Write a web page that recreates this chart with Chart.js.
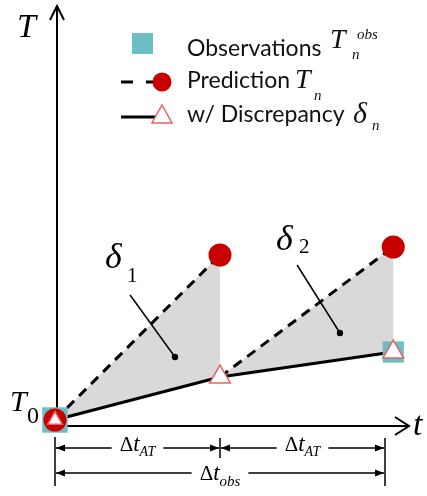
<!DOCTYPE html>
<html>
<head>
<meta charset="utf-8">
<script src="https://cdn.jsdelivr.net/npm/chart.js@4.4.0/dist/chart.umd.min.js"></script>
<style>
  html, body { margin: 0; padding: 0; background: #fff; }
  canvas { display: block; }
</style>
</head>
<body>
<canvas id="chart" width="427" height="496"></canvas>
<script>
/*
  Sketch of prediction vs. observation with discrepancy correction.
  Chart.js draws the points, lines and the grey area; a small plugin
  adds the arrows, dimension lines, labels and the legend.
*/

// Assimilation times (in steps of dt_AT)
const times = [0, 1, 2.05];
// Prediction T_n, started from the previous corrected value
const predicted = [0, 16.5, 17.3];
// Prediction with discrepancy delta_n
const corrected = [0, 4.3, 6.8];
// Observations T_n^obs (none at the middle step)
const observed = [0, null, 6.8];
// Ticks of the dimension lines under the time axis
const dimTicks = [0, 1, 2];
// Subscripts of the discrepancy labels
const deltaLabels = ["1", "2"];

const TEAL = "#6cbec4";
const RED = "#c80000";
const PINK = "#e06666";
const GREY = "#d9d9d9";

// ===== build the datasets from the arrays =====

// grey area: along the predictions and back along the corrected line
const areaPts = [{ x: times[0], y: corrected[0] }];
for (let i = 1; i < times.length; i++) {
    areaPts.push({ x: times[i], y: predicted[i] });
    areaPts.push({ x: times[i], y: corrected[i] });
}
for (let i = times.length - 2; i >= 0; i--) {
    areaPts.push({ x: times[i], y: corrected[i] });
}

// dashed segments: from corrected value n-1 to prediction n
const dashPts = [];
for (let i = 1; i < times.length; i++) {
    dashPts.push({ x: times[i - 1], y: corrected[i - 1] });
    dashPts.push({ x: times[i], y: predicted[i] });
    dashPts.push({ x: times[i], y: null });
}

const solidPts = times.map((t, i) => ({ x: t, y: corrected[i] }));
const predPts = times.map((t, i) => ({ x: t, y: predicted[i] }));
const obsPts = times.map((t, i) => ({ x: t, y: observed[i] })).filter(p => p.y !== null);

// ===== helpers for the plugin =====
const serifI = s => "italic " + s + "px 'Liberation Serif', 'DejaVu Serif', serif";
const serif = s => s + "px 'Liberation Serif', 'DejaVu Serif', serif";
const sans = "23px Lato, 'Open Sans', sans-serif";

// draws a row of text pieces: [text, font, dy]
function runs(ctx, x, y, parts) {
    parts.forEach(p => {
        ctx.font = p[1];
        ctx.fillText(p[0], x, y + (p[2] || 0));
        x += ctx.measureText(p[0]).width;
    });
    return x;
}

function runsWidth(ctx, parts) {
    let w = 0;
    parts.forEach(p => { ctx.font = p[1]; w += ctx.measureText(p[0]).width; });
    return w;
}

function arrowHead(ctx, x, y, dir) {
    ctx.beginPath();
    ctx.moveTo(x, y);
    ctx.lineTo(x - dir * 9, y - 3.5);
    ctx.lineTo(x - dir * 9, y + 3.5);
    ctx.closePath();
    ctx.fill();
}

// horizontal dimension line with a label in a gap
function dimLine(ctx, x1, x2, y, parts, dy) {
    const w = runsWidth(ctx, parts);
    const mid = (x1 + x2) / 2;
    ctx.lineWidth = 1.5;
    ctx.beginPath();
    ctx.moveTo(x1, y); ctx.lineTo(mid - w / 2 - 8, y);
    ctx.moveTo(mid + w / 2 + 8, y); ctx.lineTo(x2, y);
    ctx.stroke();
    arrowHead(ctx, x1, y, -1);
    arrowHead(ctx, x2, y, 1);
    runs(ctx, mid - w / 2, y + dy, parts);
}

const sketchPlugin = {
    id: "sketch",
    beforeDatasetsDraw(chart) {
        const ctx = chart.ctx;
        ctx.save();
        ctx.strokeStyle = "#000";
        ctx.lineWidth = 2;
        // T axis
        ctx.beginPath();
        ctx.moveTo(57, 426); ctx.lineTo(57, 6);
        ctx.moveTo(50, 20); ctx.lineTo(57, 6); ctx.lineTo(64, 20);
        // t axis
        ctx.moveTo(57, 426); ctx.lineTo(409, 426);
        ctx.moveTo(395, 417); ctx.lineTo(409, 426); ctx.lineTo(395, 435);
        ctx.stroke();
        ctx.restore();
    },
    afterDatasetsDraw(chart) {
        const ctx = chart.ctx;
        const X = v => chart.scales.x.getPixelForValue(v);
        const Y = v => chart.scales.y.getPixelForValue(v);
        ctx.save();
        ctx.fillStyle = "#000";
        ctx.strokeStyle = "#000";

        // leader lines for delta_1 and delta_2 (data units)
        const leaders = [[0.455, 12.5, 0.727, 6.3], [1.467, 15.5, 1.727, 8.7]];
        const labelAt = [[105, 268, 127, 282], [276, 250, 299, 253]];
        leaders.forEach((l, i) => {
            ctx.lineWidth = 1.5;
            ctx.beginPath();
            ctx.moveTo(X(l[0]), Y(l[1]));
            ctx.lineTo(X(l[2]), Y(l[3]));
            ctx.stroke();
            ctx.beginPath();
            ctx.arc(X(l[2]), Y(l[3]), 3.2, 0, Math.PI * 2);
            ctx.fill();
            const a = labelAt[i];
            ctx.font = serifI(36);
            ctx.fillText("\u03b4", a[0], a[1]);
            ctx.font = serif(21);
            ctx.fillText(deltaLabels[i], a[2], a[3]);
        });

        // dimension ticks and lines
        const xt = dimTicks.map(X);
        ctx.lineWidth = 1.5;
        ctx.beginPath();
        ctx.moveTo(xt[0], 437); ctx.lineTo(xt[0], 486);
        ctx.moveTo(xt[1], 438); ctx.lineTo(xt[1], 458);
        ctx.moveTo(xt[2], 438); ctx.lineTo(xt[2], 486);
        ctx.stroke();
        const at = [["\u0394", serif(21)], ["t", serifI(23)], ["AT", serifI(14), 5]];
        const obs = [["\u0394", serif(21)], ["t", serifI(23)], ["obs", serifI(15), 6]];
        dimLine(ctx, xt[0] + 1, xt[1] - 1, 448, at, 3);
        dimLine(ctx, xt[1] + 1, xt[2] - 1, 448, at, 3);
        dimLine(ctx, xt[0] + 1, xt[2] - 1, 473, obs, 7);
        ctx.restore();
    },
    afterDraw(chart) {
        const ctx = chart.ctx;
        ctx.save();
        ctx.fillStyle = "#000";

        // axis names
        ctx.font = serifI(34);
        ctx.fillText("T", 17, 37);
        ctx.fillText("t", 413, 435);
        runs(ctx, 10, 411, [["T", serifI(30)]]);
        ctx.font = serif(24);
        ctx.fillText("0", 27, 423);

        // ===== legend =====
        // observations
        ctx.fillStyle = TEAL;
        ctx.fillRect(132, 33, 21, 21);
        ctx.fillStyle = "#111";
        ctx.font = sans;
        ctx.fillText("Observations", 187, 56);
        ctx.font = serifI(28);
        ctx.fillText("T", 330, 48);
        ctx.font = serifI(15);
        ctx.fillText("obs", 357, 39);
        ctx.fillText("n", 352, 59);

        // prediction
        ctx.strokeStyle = "#000";
        ctx.lineWidth = 3;
        ctx.beginPath();
        ctx.moveTo(121, 82); ctx.lineTo(133, 82);
        ctx.moveTo(146, 82); ctx.lineTo(156, 82);
        ctx.stroke();
        ctx.fillStyle = RED;
        ctx.beginPath();
        ctx.arc(162, 82, 9.5, 0, Math.PI * 2);
        ctx.fill();
        ctx.fillStyle = "#111";
        ctx.font = sans;
        ctx.fillText("Prediction", 187, 88);
        ctx.font = serifI(28);
        ctx.fillText("T", 295, 88);
        ctx.font = serifI(15);
        ctx.fillText("n", 314, 100);

        // with discrepancy
        ctx.beginPath();
        ctx.moveTo(121, 117); ctx.lineTo(158, 117);
        ctx.stroke();
        ctx.fillStyle = "#fff";
        ctx.strokeStyle = PINK;
        ctx.lineWidth = 1.5;
        ctx.beginPath();
        ctx.moveTo(162, 105); ctx.lineTo(172, 123); ctx.lineTo(152, 123);
        ctx.closePath();
        ctx.fill();
        ctx.stroke();
        ctx.fillStyle = "#111";
        ctx.font = sans;
        ctx.fillText("w/ Discrepancy", 187, 122);
        ctx.font = serifI(30);
        ctx.fillText("\u03b4", 353, 123);
        ctx.font = serifI(15);
        ctx.fillText("n", 372, 130);
        ctx.restore();
    }
};

// ===== chart =====
new Chart(document.getElementById("chart"), {
    type: "scatter",
    data: {
        datasets: [
            {   // triangles: corrected values
                data: solidPts,
                order: 1,
                showLine: false,
                pointStyle: "triangle",
                pointRadius: c => c.dataIndex === 0 ? 8.5 : 12,
                backgroundColor: "#fff",
                borderColor: PINK,
                borderWidth: 1.5
            },
            {   // red circles: predictions
                data: predPts,
                order: 2,
                showLine: false,
                pointStyle: "circle",
                pointRadius: 11.5,
                backgroundColor: RED,
                borderWidth: 0
            },
            {   // teal squares: observations
                data: obsPts,
                order: 3,
                showLine: false,
                pointStyle: "rect",
                pointRadius: c => c.dataIndex === 0 ? 18 : 15,
                backgroundColor: TEAL,
                borderWidth: 0
            },
            {   // solid line with discrepancy
                data: solidPts,
                order: 4,
                showLine: true,
                pointRadius: 0,
                borderColor: "#000",
                borderWidth: 3
            },
            {   // dashed prediction lines
                data: dashPts,
                order: 5,
                showLine: true,
                spanGaps: false,
                pointRadius: 0,
                borderColor: "#000",
                borderWidth: 3,
                borderDash: [10, 7]
            },
            {   // grey area between prediction and correction
                data: areaPts,
                order: 6,
                showLine: true,
                pointRadius: 0,
                borderWidth: 0,
                borderColor: GREY,
                backgroundColor: GREY,
                fill: "shape"
            }
        ]
    },
    options: {
        responsive: false,
        animation: false,
        layout: { padding: 0, autoPadding: false },
        elements: { line: { tension: 0 } },
        plugins: { legend: { display: false }, tooltip: { enabled: false } },
        scales: {
            x: { type: "linear", min: -55 / 165, max: 372 / 165, display: false },
            y: { type: "linear", min: -7.6, max: 42, display: false }
        }
    },
    plugins: [sketchPlugin]
});
</script>
</body>
</html>
